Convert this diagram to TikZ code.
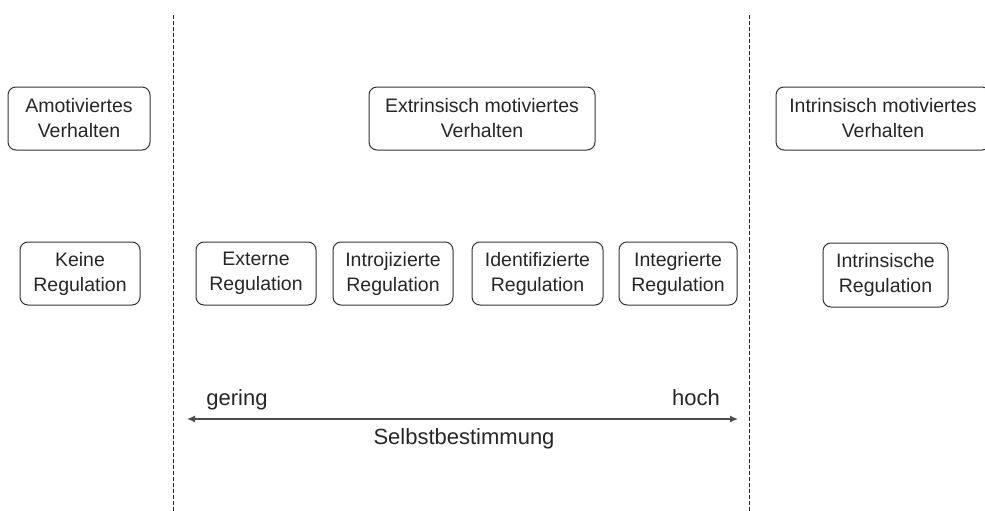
\documentclass[tikz,border=0pt]{standalone}
\usepackage{fontspec}
\setmainfont{Liberation Sans}
\usepackage{tikz}
\usetikzlibrary{arrows.meta,positioning}
\tikzstyle{every node}=[font=\fontsize{19.5}{25}\selectfont,text=black!85]
\tikzstyle{regbox}=[rectangle,
                                    rounded corners=8pt,
                                    line width=1pt,
                                    draw=black!80,
                                    align=center,
                                    inner sep=0pt,
                                    minimum width=120pt,
                                    minimum height=63pt
                                    ]
\tikzstyle{scale label}=[font=\fontsize{22}{26}\selectfont,anchor=base]
\tikzstyle{divider}=[dashed,
                                    line width=0.8pt,
                                    dash pattern=on 4pt off 2pt,
                                    draw=black!85]

\begin{document}
\begin{tikzpicture}[x=1pt,y=-1pt,>={Latex[length=8pt,width=7pt]}]
\useasboundingbox (0,0) rectangle (985,511);
\node (amotiv) [regbox,minimum width=142pt] at (79,118.5) {Amotiviertes\\Verhalten};
\node (extrin) [regbox,minimum width=226pt] at (482,118.5) {Extrinsisch motiviertes\\Verhalten};
\node (intrin) [regbox,minimum width=214pt] at (883,118.5) {Intrinsisch motiviertes\\Verhalten};
\node (keine)  [regbox] at (80,273.5) {Keine\\Regulation};
\node (extern) [regbox] at (256,273.5) {Externe\\Regulation};
\node (introj) [regbox,right=16pt of extern] {Introjizierte\\Regulation};
\node (ident)  [regbox,minimum width=131pt,right=18pt of introj] {Identifizierte\\Regulation};
\node (integr) [regbox,minimum width=118pt,right=15pt of ident] {Integrierte\\Regulation};
\node (intreg) [regbox,minimum width=125pt,minimum height=64pt] at (885.5,275) {Intrinsische\\Regulation};
% dashed dividers
\coordinate (d1top) at (173,15);
\coordinate (d1bot) at (173,511);
\coordinate (d2top) at (749,15);
\coordinate (d2bot) at (749,511);
\draw[divider] (d1top) -- (d1bot);
\draw[divider] (d2top) -- (d2bot);
% self-determination scale
\coordinate (low) at (187,419);
\coordinate (high) at (738,419);
\path[<->] (low) edge[line width=1.2pt,draw=black!70] (high);
\node (gering) [scale label] at (237,405) {gering};
\node (hoch)   [scale label] at (696,405) {hoch};
\node (selbst) [scale label] at (464,444) {Selbstbestimmung};
\end{tikzpicture}
\end{document}
